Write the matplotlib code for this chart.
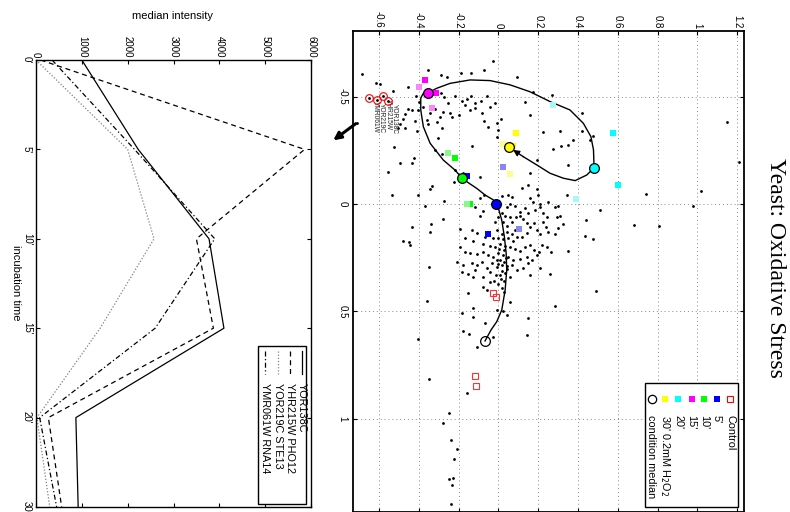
import matplotlib
matplotlib.use("Agg")
import matplotlib.pyplot as plt
import numpy as np
from matplotlib.patches import Rectangle, FancyArrowPatch
from matplotlib.lines import Line2D

plt.rcParams['font.family'] = ['Liberation Sans', 'DejaVu Sans']
plt.rcParams['axes.unicode_minus'] = False

# ------------------------------------------------------------------ data
times = ["0'", "5'", "10'", "15'", "20'", "30'"]
intensity_ticks = [0, 1000, 2000, 3000, 4000, 5000, 6000]
gene_names = ["YOR138C", "YHR215W PHO12", "YOR219C STE13", "YMR061W RNA14"]
yor138c = [1000, 2230, 3775, 4100, 870, 920]
yhr215w = [100, 5860, 3500, 3870, 270, 560]
yor219c = [0, 2000, 2575, 1400, 20, 300]
ymr061w = [350, 2150, 3900, 2600, 80, 450]

# scatter (horizontal value h, vertical value v)
h_ticks = [-0.6, -0.4, -0.2, 0, 0.2, 0.4, 0.6, 0.8, 1.0, 1.2]
h_ticklabels = ['-0.6', '-0.4', '-0.2', '0', '0.2', '0.4', '0.6', '0.8', '1', '1.2']
v_ticks = [-0.5, 0, 0.5, 1]
v_ticklabels = ['-0.5', '0', '0.5', '1']

dots = [
    (-0.687,-0.606),(-0.616,-0.562),(-0.595,-0.559),(-0.531,-0.528),(-0.452,-0.547),(-0.352,-0.624),
    (-0.288,-0.602),(-0.260,-0.593),(-0.188,-0.612),(-0.137,-0.609),(-0.070,-0.624),(-0.025,-0.666),
    (-0.414,-0.503),(-0.397,-0.475),(-0.288,-0.516),(-0.271,-0.497),(-0.251,-0.472),(-0.218,-0.503),
    (-0.184,-0.481),(-0.159,-0.488),(-0.137,-0.503),(-0.117,-0.472),(-0.087,-0.481),(-0.059,-0.503),
    (-0.042,-0.453),(-0.017,-0.472),(0.013,-0.394),(-0.008,-0.376),(-0.070,-0.388),(-0.080,-0.422),
    (-0.117,-0.446),(-0.142,-0.438),(-0.168,-0.461),(-0.198,-0.415),(-0.235,-0.404),(-0.243,-0.425),
    (-0.276,-0.427),(-0.293,-0.407),(-0.318,-0.441),(-0.343,-0.422),(-0.360,-0.391),(-0.352,-0.373),
    (-0.310,-0.384),(-0.285,-0.352),(-0.302,-0.306),(-0.377,-0.453),(-0.402,-0.438),(-0.432,-0.438),
    (-0.452,-0.441),(-0.469,-0.419),(-0.477,-0.394),(-0.494,-0.373),(-0.469,-0.352),(-0.506,-0.352),
    (-0.523,-0.264),(-0.419,-0.388),(-0.410,-0.342),(-0.712,-0.379),(-0.422,-0.213),(-0.436,-0.189),
    (-0.494,-0.189),(-0.553,-0.151),(-0.318,-0.252),(-0.281,-0.233),(-0.218,-0.158),(-0.176,-0.146),
    (-0.134,-0.270),(-0.092,-0.127),(-0.008,-0.314),(-0.054,-0.360),(0.000,-0.345),
    (0.226,-0.337),(0.159,-0.415),(0.134,-0.477),(0.092,-0.593),(0.176,-0.523),(0.193,-0.205),(0.159,-0.143),
    (-0.223,-0.101),(-0.335,-0.084),(-0.343,-0.068),(-0.405,-0.042),(-0.536,-0.042),(-0.273,-0.016),
    (-0.369,0.009),(-0.276,0.071),(-0.338,0.095),(-0.343,0.129),(-0.436,0.106),(-0.477,0.174),
    (-0.447,0.177),(-0.444,0.193),(-0.347,0.292),(-0.357,0.454),
    (0.271,-0.508),(0.310,-0.342),(0.273,-0.256),(0.313,-0.270),(0.352,-0.275),(0.374,-0.298),
    (0.352,-0.182),(0.422,-0.422),(0.422,-0.342),(0.461,-0.298),(0.477,-0.317),(0.343,-0.042),
    (0.285,0.012),(0.302,0.009),(0.293,0.059),(0.310,0.056),(0.323,0.093),(0.302,0.113),
    (0.285,0.140),(0.441,0.075),(0.511,0.028),(0.436,0.149),(0.477,0.165),(0.263,0.222),
    (0.352,0.217),(0.682,0.098),(0.809,0.102),(0.742,-0.047),(1.017,-0.062),(0.980,0.008),
    (1.151,-0.384),(1.211,-0.197),
    (-0.008,0.494),(0.025,0.498),(0.045,0.517),(-0.184,0.506),(-0.126,0.486),(-0.129,0.525),
    (-0.067,0.553),(-0.028,0.621),(-0.176,0.590),(-0.147,0.607),(-0.109,0.668),(0.151,0.533),
    (0.142,0.610),(0.285,0.475),(-0.402,0.631),(-0.348,0.815),(-0.159,0.879),(-0.246,0.975),
    (-0.280,1.022),(-0.240,1.099),(-0.209,1.143),(-0.223,1.188),(-0.246,1.281),(-0.229,1.278),
    (-0.235,1.309),(-0.240,1.398),(0.489,0.404),
    (-0.092,-0.026),(-0.072,-0.042),(0.017,-0.037),(0.050,-0.042),(0.067,-0.031),(0.117,-0.073),
    (0.151,-0.089),(0.196,-0.068),(0.201,-0.042),(0.159,-0.026),(0.176,-0.011),(0.209,0.000),
    (0.251,-0.011),(0.042,0.012),(0.059,0.000),(0.084,0.009),(0.109,0.036),(0.134,0.020),
    (0.151,0.043),(0.184,0.028),(0.209,0.016),(0.226,0.043),(0.243,0.062),(0.109,0.056),
    (0.126,0.071),(0.089,0.062),(0.017,0.043),(0.034,0.056),(0.059,0.062),(0.067,0.082),
    (0.025,0.082),(0.042,0.103),(0.000,0.062),(-0.017,0.082),(-0.092,0.056),(-0.117,0.016),
    (-0.075,0.031),(-0.193,0.118),(-0.168,0.160),(0.142,0.090),(0.159,0.109),(0.179,0.087),
    (0.196,0.121),(0.226,0.082),(0.240,0.106),(0.209,0.140),(0.251,0.129),(0.142,0.137),
    (0.117,0.155),(0.084,0.121),(0.067,0.140),(0.042,0.129),(0.017,0.140),(-0.008,0.121),
    (-0.025,0.160),(0.000,0.160),(0.025,0.165),(0.050,0.160),(0.072,0.171),(0.095,0.152),
    (-0.067,0.155),(-0.109,0.137),(-0.134,0.121),(-0.126,0.171),(-0.075,0.186),(-0.042,0.194),
    (-0.017,0.202),(0.008,0.186),(0.034,0.194),(0.059,0.202),(0.084,0.210),(0.109,0.217),
    (0.134,0.199),(0.159,0.191),(0.179,0.214),(0.203,0.224),(0.218,0.191),(0.243,0.199),
    (-0.168,0.222),(-0.142,0.230),(-0.109,0.233),(-0.075,0.222),(-0.050,0.239),(-0.025,0.245),
    (0.000,0.230),(0.025,0.239),(0.050,0.248),(0.075,0.261),(0.109,0.255),(0.142,0.245),
    (0.168,0.261),(0.193,0.239),(-0.193,0.199),(-0.209,0.269),(-0.176,0.284),(-0.134,0.276),
    (-0.109,0.286),(-0.084,0.270),(-0.059,0.300),(-0.034,0.276),(-0.008,0.295),(0.017,0.286),
    (0.042,0.301),(0.067,0.286),(0.092,0.307),(0.126,0.300),(0.151,0.276),(-0.117,0.307),
    (-0.151,0.326),(-0.184,0.317),(-0.126,0.342),(-0.075,0.342),(-0.042,0.317),(0.008,0.332),
    (0.059,0.342),(0.209,0.300),(0.260,0.326),(0.159,0.331),(-0.075,0.385),(-0.059,0.401),
    (-0.042,0.362),(0.000,0.373),(-0.151,0.416),(0.059,0.455),
    (0.010,0.260),(0.030,0.270),(0.020,0.310),(0.035,0.320),(0.000,0.280),(0.015,0.350),
    (0.028,0.360),(-0.010,0.330),(0.040,0.250),(0.005,0.210),(0.030,0.215),(-0.005,0.260),
    (0.045,0.290),(0.020,0.390),(0.030,0.410),(-0.020,0.360),
]
dots_h = [d[0] for d in dots]
dots_v = [d[1] for d in dots]

# highlighted genes (red circles at left)
gene_ids = ["YMR061W", "YOR219C", "YHR215W", "YOR138C"]
gene_h = [-0.650, -0.611, -0.578, -0.553]
gene_v = [-0.492, -0.484, -0.503, -0.481]

# squares of the 4 genes per condition (saturated, light)
cond_labels = ["Control", "5'", "10'", "15'", "20'", "30' 0.2mM H$_2$O$_2$"]
cond_colors = ['#ff0000', '#0000ff', '#00ff00', '#ff00ff', '#00ffff', '#ffff00']
cond_light = ['#ff0000', '#8888f0', '#88f888', '#f888f8', '#a8f8f8', '#fcfc90']
sq_h = [[-0.028, -0.013, -0.116, -0.112],
        [-0.050, -0.159, 0.106, 0.025],
        [-0.216, -0.142, -0.251, -0.159],
        [-0.369, -0.313, -0.397, -0.335],
        [0.575, 0.600, 0.390, 0.273],
        [0.087, 0.075, 0.022, 0.059]]
sq_v = [[0.416, 0.432, 0.800, 0.848],
        [0.141, -0.130, 0.116, -0.174],
        [-0.216, 0.002, -0.239, 0.002],
        [-0.578, -0.516, -0.547, -0.449],
        [-0.332, -0.089, -0.022, -0.461],
        [-0.332, -0.270, -0.280, -0.140]]
med_h = [-0.067, -0.012, -0.184, -0.352, 0.481, 0.055]
med_v = [0.637, 0.000, -0.120, -0.519, -0.169, -0.264]

# trajectory through the condition medians
traj_h = [-0.067,-0.037,-0.008,0.017,0.034,0.042,0.039,0.030,0.017,0.000,-0.012,-0.025,-0.067,
          -0.109,-0.151,-0.183,-0.218,-0.277,-0.343,-0.377,-0.390,-0.390,-0.377,-0.352,-0.310,
          -0.243,-0.142,-0.042,0.059,0.159,0.260,0.360,0.427,0.465,0.478,0.481,0.444,0.386,
          0.327,0.260,0.193,0.126]
traj_v = [0.638,0.587,0.548,0.494,0.401,0.308,0.228,0.152,0.075,0.020,0.000,-0.019,-0.042,
          -0.073,-0.099,-0.121,-0.158,-0.205,-0.283,-0.360,-0.438,-0.493,-0.516,-0.519,-0.539,
          -0.562,-0.578,-0.575,-0.555,-0.523,-0.477,-0.438,-0.376,-0.314,-0.252,-0.169,-0.135,
          -0.109,-0.120,-0.143,-0.182,-0.220]

# ------------------------------------------------------------------ figure
W, H = 790, 512
fig = plt.figure(figsize=(7.9, 5.12), dpi=100, facecolor='white')

def fx(px):
    return px / W

def fy(py):
    return 1 - py / H

def rect(x0, y0, x1, y1):
    return [x0 / W, 1 - y1 / H, (x1 - x0) / W, (y1 - y0) / H]

# ---------------- line chart (left)
ax1 = fig.add_axes(rect(36, 60, 311, 507))
ypos = np.arange(len(times))
styles = [dict(ls='-', color='k', lw=0.9),
          dict(ls=(0, (4, 3)), color='k', lw=0.9),
          dict(ls=(0, (1, 1.5)), color='#808080', lw=0.9),
          dict(ls=(0, (4, 2, 1, 2)), color='k', lw=0.9)]
series = [yor138c, yhr215w, yor219c, ymr061w]
for vals, st in zip(series, styles):
    ax1.plot(vals, ypos, **st)
ax1.set_xlim(0, 6000)
ax1.set_ylim(len(times) - 1, 0)
ax1.set_xticks(intensity_ticks)
ax1.set_xticklabels([str(t) for t in intensity_ticks])
ax1.set_yticks(ypos)
ax1.set_yticklabels(times)
ax1.tick_params(axis='x', top=True, bottom=True, labeltop=True, labelbottom=False,
                direction='in', length=3, pad=2, labelsize=7, labelrotation=270)
ax1.tick_params(axis='y', left=True, right=True, direction='in', length=3, pad=3,
                labelsize=7, labelrotation=270)
for lbl in ax1.get_yticklabels():
    lbl.set_va('center')
for sp in ax1.spines.values():
    sp.set_linewidth(1.0)

fig.text(fx(172.5), fy(16), 'median intensity', ha='center', va='center', fontsize=8)
fig.text(fx(16), fy(283), 'incubation time', ha='center', va='center', fontsize=8, rotation=270)

# legend of line chart (drawn in figure space, rotated)
fig.add_artist(Rectangle((fx(258), fy(504)), (306 - 258) / W, (504 - 346) / H,
                         transform=fig.transFigure, fc='white', ec='k', lw=1.0, zorder=5))
leg_x = [302, 290, 278, 265]
for xx, name, st in zip(leg_x, gene_names, styles):
    fig.add_artist(Line2D([fx(xx), fx(xx)], [fy(351), fy(374)], transform=fig.transFigure,
                          zorder=6, **st))
    fig.text(fx(xx), fy(383), name, rotation=270, ha='center', va='top', fontsize=7.8, zorder=6)

# ---------------- scatter (right)
ax2 = fig.add_axes(rect(353, 31, 744, 512))
ax2.set_xlim(-0.7305, 1.2343)
ax2.set_ylim(1.435, -0.806)
ax2.set_xticks(h_ticks)
ax2.set_xticklabels(h_ticklabels)
ax2.set_yticks(v_ticks)
ax2.set_yticklabels(v_ticklabels)
ax2.tick_params(axis='x', top=True, bottom=True, labeltop=True, labelbottom=False,
                direction='in', length=3, pad=2, labelsize=7, labelrotation=270)
ax2.tick_params(axis='y', left=True, right=True, direction='in', length=3, pad=4,
                labelsize=7, labelrotation=270)
for lbl in ax2.get_yticklabels():
    lbl.set_va('center')
ax2.grid(True, ls=(0, (1, 3)), color='#888888', lw=0.7)
for sp in ax2.spines.values():
    sp.set_linewidth(1.3)

ax2.plot(dots_h, dots_v, 'o', ms=2.0, color='k', mew=0, zorder=3)
ax2.plot(gene_h, gene_v, 'o', ms=2.0, color='k', mew=0, zorder=3)
ax2.plot(gene_h, gene_v, 'o', ms=5.5, mfc='none', mec='#ff0000', mew=0.8, zorder=4)
offs = [4.5, 3.5, 3.5, 4.5]
for gh, gv, name, o in zip(gene_h, gene_v, gene_ids, offs):
    ax2.annotate(name, (gh, gv), xytext=(o, -2), textcoords='offset points',
                 rotation=270, ha='center', va='top', fontsize=4.8, color='#222222')

ax2.plot(traj_h, traj_v, '-', color='k', lw=1.0, zorder=4)
ax2.annotate('', xy=(0.074, -0.252), xytext=(traj_h[-1], traj_v[-1]),
             arrowprops=dict(arrowstyle='-|>', color='k', lw=1.0, mutation_scale=9,
                             shrinkA=0, shrinkB=0), zorder=5)

for i in range(len(cond_labels)):
    if i == 0:
        ax2.plot(sq_h[i], sq_v[i], 's', ms=5, mfc='none', mec='#ff3030', mew=0.8,
                 ls='none', zorder=5)
    else:
        ax2.plot(sq_h[i][:2], sq_v[i][:2], 's', ms=5, color=cond_colors[i], mew=0,
                 ls='none', zorder=5)
        ax2.plot(sq_h[i][2:], sq_v[i][2:], 's', ms=5, color=cond_light[i], mew=0,
                 ls='none', zorder=5)
for i in range(len(cond_labels)):
    fc = 'none' if i == 0 else cond_colors[i]
    ax2.plot(med_h[i], med_v[i], 'o', ms=7, mfc=fc, mec='k', mew=0.9, zorder=6)

# scatter legend (rotated)
fig.add_artist(Rectangle((fx(645), fy(507)), (738 - 645) / W, (507 - 383) / H,
                         transform=fig.transFigure, fc='white', ec='k', lw=1.0, zorder=5))
lx = [730, 717, 704, 691.5, 678, 665]
for i, (xx, lab) in enumerate(zip(lx, cond_labels)):
    if i == 0:
        mk = dict(marker='s', ms=5, mfc='none', mec='#ff0000', mew=0.8)
    else:
        mk = dict(marker='s', ms=5, mfc=cond_colors[i], mec=cond_colors[i], mew=0)
    fig.add_artist(Line2D([fx(xx)], [fy(399)], transform=fig.transFigure, ls='none',
                          zorder=6, **mk))
    fig.text(fx(xx), fy(415), lab, rotation=270, ha='center', va='top', fontsize=7.8, zorder=6)
fig.add_artist(Line2D([fx(651.5)], [fy(399)], transform=fig.transFigure, ls='none',
                      marker='o', ms=6, mfc='none', mec='k', mew=0.9, zorder=6))
fig.text(fx(651.5), fy(415), 'condition median', rotation=270, ha='center', va='top',
         fontsize=7.8, zorder=6)

# big arrow pointing from the highlighted genes to the line chart
fig.add_artist(FancyArrowPatch((fx(358), fy(122)), (fx(331), fy(142)),
                               transform=fig.transFigure, arrowstyle='-|>',
                               mutation_scale=11, lw=2.2, color='k', zorder=7))

fig.text(fx(775), fy(268), 'Yeast: Oxidative Stress', rotation=270, ha='center', va='center',
         fontsize=17, family='Liberation Serif')

fig.savefig('out.png', dpi=100, facecolor='white')
